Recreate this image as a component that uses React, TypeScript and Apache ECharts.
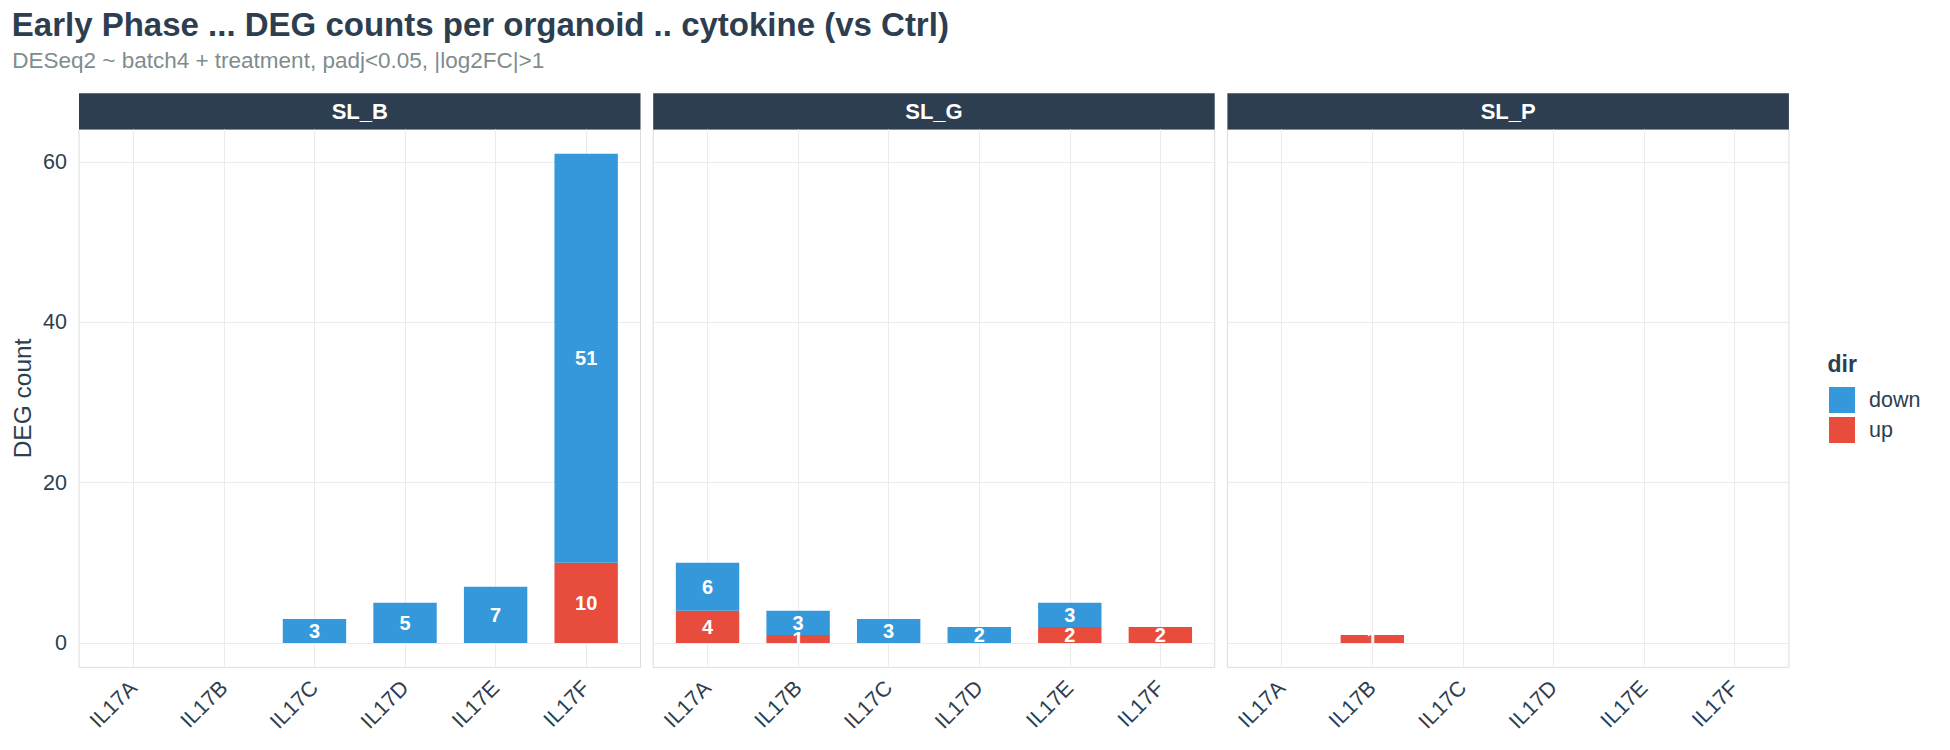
import React, { useEffect, useRef } from 'react';
import * as echarts from 'echarts';

const CATEGORIES = ['IL17A', 'IL17B', 'IL17C', 'IL17D', 'IL17E', 'IL17F'];
const PANELS = ['SL_B', 'SL_G', 'SL_P'];
const UP_SL_B = [0, 0, 0, 0, 0, 10];
const DOWN_SL_B = [0, 0, 3, 5, 7, 51];
const UP_SL_G = [4, 1, 0, 0, 2, 2];
const DOWN_SL_G = [6, 3, 3, 2, 3, 0];
const UP_SL_P = [0, 1, 0, 0, 0, 0];
const DOWN_SL_P = [0, 0, 0, 0, 0, 0];
const Y_TICKS = [0, 20, 40, 60];
const LEGEND_ITEMS = ['down', 'up'];

const UP = [UP_SL_B, UP_SL_G, UP_SL_P];
const DOWN = [DOWN_SL_B, DOWN_SL_G, DOWN_SL_P];

const FONT = '"Liberation Sans", Arial, Helvetica, sans-serif';
const DARK = '#2c3e50';
const BLUE = '#3498db';
const RED = '#e74c3c';
const GRID_LINE = '#ebebeb';

const PANEL_LEFT = [79, 653.2, 1227.4];
const PANEL_W = 561.5;
const PANEL_TOP = 129.4;
const PANEL_H = 538;
const STRIP_TOP = 93.3;
const STRIP_H = 36.1;
const X_MIN = -0.6;
const X_MAX = 5.6;
const BAR_W = (0.7 * PANEL_W) / (X_MAX - X_MIN);

export default function App() {
  const ref = useRef<HTMLDivElement>(null);

  useEffect(() => {
    document.body.style.margin = '0';
    const chart = echarts.init(ref.current as HTMLDivElement, null, { renderer: 'svg' });
    const catIdx = CATEGORIES.map((_, i) => i);

    const grids = PANELS.map((_, i) => ({
      left: PANEL_LEFT[i],
      top: PANEL_TOP,
      width: PANEL_W,
      height: PANEL_H,
      show: true,
      borderColor: '#dcdcdc',
      borderWidth: 1,
      backgroundColor: 'transparent',
      containLabel: false,
      outerBoundsMode: 'none',
    }));

    const xAxes = PANELS.map((_, i) => ({
      type: 'value',
      gridIndex: i,
      min: X_MIN,
      max: X_MAX,
      axisLine: { show: false },
      axisTick: { show: false, customValues: catIdx },
      axisLabel: {
        customValues: catIdx,
        formatter: (v: number) => CATEGORIES[Math.round(v)] ?? '',
        rotate: 45,
        margin: 17,
        padding: [10, 0, 0, 0],
        fontSize: 21.5,
        color: DARK,
        fontFamily: FONT,
      },
      splitLine: { show: true, lineStyle: { color: GRID_LINE, width: 1 } },
    }));

    const yAxes = PANELS.map((_, i) => ({
      type: 'value',
      gridIndex: i,
      min: -3.05,
      max: 64.05,
      axisLine: { show: false },
      axisTick: { show: false, customValues: Y_TICKS },
      axisLabel: {
        show: i === 0,
        customValues: Y_TICKS,
        margin: 12,
        fontSize: 21.5,
        color: DARK,
        fontFamily: FONT,
      },
      splitLine: { show: true, lineStyle: { color: GRID_LINE, width: 1 } },
    }));

    const makeLabel = () => ({
      show: true,
      position: 'inside',
      formatter: (p: any) => (p.value[0] > 0 ? String(p.value[0]) : ''),
      color: '#ffffff',
      fontWeight: 'bold',
      fontSize: 20,
      fontFamily: FONT,
    });

    const series: any[] = [];
    PANELS.forEach((_, i) => {
      // data items are [count, categoryIndex] so that the stacked dimension is the count
      series.push({
        type: 'bar',
        name: 'up',
        xAxisIndex: i,
        yAxisIndex: i,
        stack: 'panel' + i,
        barWidth: BAR_W,
        encode: { x: 1, y: 0 },
        data: UP[i].map((v, j) => [v, j]),
        itemStyle: { color: RED },
        label: makeLabel(),
      });
      series.push({
        type: 'bar',
        name: 'down',
        xAxisIndex: i,
        yAxisIndex: i,
        stack: 'panel' + i,
        barWidth: BAR_W,
        encode: { x: 1, y: 0 },
        data: DOWN[i].map((v, j) => [v, j]),
        itemStyle: { color: BLUE },
        label: makeLabel(),
      });
    });

    const graphic: any[] = [
      {
        type: 'text',
        x: 11.8,
        y: 24.7,
        style: {
          text: 'Early Phase ... DEG counts per organoid .. cytokine (vs Ctrl)',
          fontSize: 33,
          fontWeight: 'bold',
          fontFamily: FONT,
          fill: DARK,
          align: 'left',
          verticalAlign: 'middle',
        },
      },
      {
        type: 'text',
        x: 12.2,
        y: 60,
        style: {
          text: 'DESeq2 ~ batch4 + treatment, padj<0.05, |log2FC|>1',
          fontSize: 22.5,
          fontFamily: FONT,
          fill: '#7f8c8d',
          align: 'left',
          verticalAlign: 'middle',
        },
      },
      {
        type: 'text',
        x: 22,
        y: PANEL_TOP + PANEL_H / 2,
        rotation: Math.PI / 2,
        style: {
          text: 'DEG count',
          fontSize: 24.5,
          fontFamily: FONT,
          fill: DARK,
          align: 'center',
          verticalAlign: 'middle',
        },
      },
      {
        type: 'text',
        x: 1827.5,
        y: 363.5,
        style: {
          text: 'dir',
          fontSize: 23,
          fontWeight: 'bold',
          fontFamily: FONT,
          fill: DARK,
          align: 'left',
          verticalAlign: 'middle',
        },
      },
    ];
    PANELS.forEach((name, i) => {
      graphic.push({
        type: 'rect',
        shape: { x: PANEL_LEFT[i], y: STRIP_TOP, width: PANEL_W, height: STRIP_H },
        style: { fill: DARK },
      });
      graphic.push({
        type: 'text',
        x: PANEL_LEFT[i] + PANEL_W / 2,
        y: STRIP_TOP + STRIP_H / 2,
        style: {
          text: name,
          fontSize: 22,
          fontWeight: 'bold',
          fontFamily: FONT,
          fill: '#ffffff',
          align: 'center',
          verticalAlign: 'middle',
        },
      });
    });

    chart.setOption({
      animation: false,
      backgroundColor: '#ffffff',
      grid: grids,
      xAxis: xAxes,
      yAxis: yAxes,
      series,
      legend: {
        data: LEGEND_ITEMS,
        orient: 'vertical',
        left: 1829,
        top: 387,
        padding: 0,
        itemWidth: 26,
        itemHeight: 26,
        itemGap: 4,
        icon: 'rect',
        selectedMode: false,
        textStyle: { fontSize: 21.5, color: DARK, fontFamily: FONT, padding: [0, 0, 0, 9] },
      },
      graphic,
    });

    return () => chart.dispose();
  }, []);

  return <div ref={ref} style={{ width: 1950, height: 750 }} />;
}
